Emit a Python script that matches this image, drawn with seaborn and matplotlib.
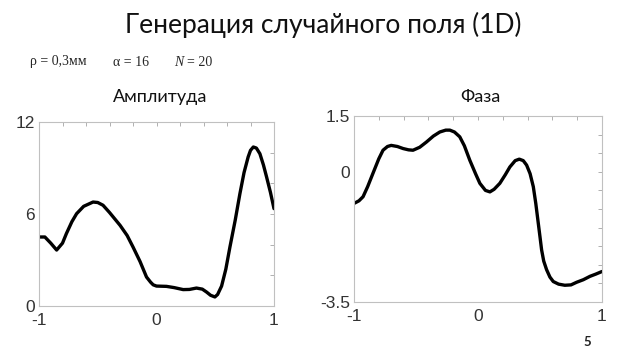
import matplotlib
matplotlib.use("Agg")
import matplotlib.pyplot as plt
import seaborn as sns

sns.set_theme(style="white")
plt.rcParams['font.family'] = ['Lato', 'DejaVu Sans']

# Amplitude curve
amp_x = [-1.0, -0.95, -0.90, -0.85, -0.80, -0.767, -0.72, -0.68, -0.62, -0.54, -0.50, -0.455,
         -0.40, -0.31, -0.25, -0.20, -0.14, -0.085, -0.05, -0.028, 0.0, 0.085, 0.15, 0.227,
         0.28, 0.34, 0.39, 0.426, 0.46, 0.497, 0.52, 0.554, 0.59, 0.625, 0.67, 0.71, 0.745,
         0.78, 0.80, 0.824, 0.85, 0.88, 0.91, 0.937, 0.97, 1.0]
amp_y = [4.5, 4.5, 4.1, 3.65, 4.1, 4.72, 5.5, 6.02, 6.5, 6.78, 6.75, 6.57,
         6.1, 5.26, 4.6, 3.85, 2.9, 1.89, 1.55, 1.38, 1.3, 1.28, 1.2, 1.07,
         1.08, 1.17, 1.1, 0.91, 0.7, 0.59, 0.75, 1.3, 2.4, 3.85, 5.6, 7.33, 8.7,
         9.72, 10.15, 10.37, 10.3, 9.93, 9.2, 8.41, 7.4, 6.35]

# Phase curve
ph_x = [-1.0, -0.96, -0.927, -0.89, -0.847, -0.80, -0.766, -0.73, -0.70, -0.65, -0.604, -0.56,
        -0.524, -0.47, -0.416, -0.36, -0.308, -0.26, -0.227, -0.19, -0.147, -0.11, -0.066,
        -0.02, 0.015, 0.06, 0.096, 0.13, 0.176, 0.22, 0.257, 0.30, 0.333, 0.365, 0.392,
        0.42, 0.446, 0.466, 0.486, 0.50, 0.513, 0.53, 0.553, 0.58, 0.607, 0.65, 0.70,
        0.75, 0.795, 0.85, 0.903, 0.95, 1.0]
ph_y = [-0.85, -0.78, -0.67, -0.4, -0.04, 0.35, 0.58, 0.68, 0.71, 0.68, 0.625, 0.59,
        0.58, 0.66, 0.80, 0.96, 1.07, 1.12, 1.12, 1.07, 0.94, 0.7, 0.31,
        -0.05, -0.31, -0.5, -0.54, -0.47, -0.31, -0.08, 0.13, 0.3, 0.34, 0.3, 0.18,
        -0.05, -0.40, -0.85, -1.38, -1.75, -2.10, -2.4, -2.63, -2.83, -2.95, -3.02, -3.05,
        -3.04, -2.97, -2.9, -2.81, -2.75, -2.68]

amp_xticks = [-1, 0, 1]
amp_yticks = [0, 6, 12]
ph_xticks = [-1, 0, 1]
ph_yticks = [-3.5, 0, 1.5]
ph_ylabels = ["-3.5", "0", "1.5"]

fig = plt.figure(figsize=(6.4, 3.6), dpi=100)
fig.patch.set_facecolor("white")

ax1 = fig.add_axes([39/640, 1-306/360, 235/640, 184/360])
ax2 = fig.add_axes([354/640, 1-302/360, 248/640, 186/360])

kw = dict(color="black", linewidth=2.4, sort=False,
          solid_joinstyle="round", solid_capstyle="round")
sns.lineplot(x=amp_x, y=amp_y, ax=ax1, **kw)
sns.lineplot(x=ph_x, y=ph_y, ax=ax2, **kw)

def style(ax, xt, yt, ylab, xlim, ylim, xminor, yminor):
    ax.set_xlim(*xlim)
    ax.set_ylim(*ylim)
    ax.set_xticks(xt)
    ax.set_xticklabels([str(v) for v in xt])
    ax.set_yticks(yt)
    ax.set_yticklabels(ylab)
    ax.set_xticks(xminor, minor=True)
    ax.set_yticks(yminor, minor=True)
    for s in ax.spines.values():
        s.set_color("#c0c0c0")
        s.set_linewidth(0.8)
    ax.tick_params(which="both", direction="in", top=True, right=True,
                   color="#b0b0b0", length=3, width=0.7)
    ax.tick_params(which="major", labelsize=12.5, labelcolor="#333333",
                   left=False, bottom=False)
    ax.tick_params(axis="x", which="major", pad=5)
    ax.tick_params(axis="y", which="major", pad=3)
    for lab in ax.get_xticklabels() + ax.get_yticklabels():
        lab.set_fontfamily(["Liberation Sans", "DejaVu Sans"])
    ax.grid(False)

style(ax1, amp_xticks, amp_yticks, [str(v) for v in amp_yticks], (-1, 1), (0, 12),
      [-1 + 0.2*i for i in range(11)], [2*i for i in range(7)])
style(ax2, ph_xticks, ph_yticks, ph_ylabels, (-1, 1), (-3.5, 1.5),
      [-1 + 0.2*i for i in range(11)], [-3.5 + 0.5*i for i in range(11)])

fig.text(0.505, 1-25/360, "Генерация случайного поля (1D)", ha="center", va="center",
         fontsize=19, color="#111111")
fig.text(160/640, 1-97/360, "Амплитуда", ha="center", va="center", fontsize=13, color="#111111")
fig.text(480/640, 1-97/360, "Фаза", ha="center", va="center", fontsize=13, color="#111111")

sfam = ["Liberation Serif", "DejaVu Serif"]
fig.text(30/640, 1-62/360, "ρ = 0,3мм", ha="left", va="center", fontsize=10, family=sfam)
fig.text(113/640, 1-62/360, "α = 16", ha="left", va="center", fontsize=10, family=sfam)
fig.text(174/640, 1-62/360, "N", ha="left", va="center", fontsize=10, family=sfam,
         style="italic")
fig.text(187/640, 1-62/360, "= 20", ha="left", va="center", fontsize=10, family=sfam)

fig.text(587/640, 1-342/360, "5", ha="center", va="center", fontsize=9.5, fontweight="bold",
         color="#222222")

fig.savefig("out.png", dpi=100, facecolor="white")
